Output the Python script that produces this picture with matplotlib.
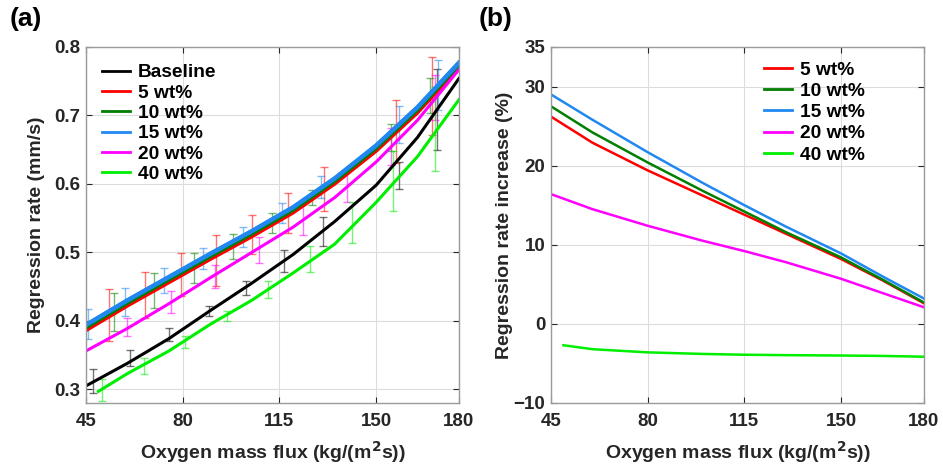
import matplotlib
matplotlib.use("Agg")
import matplotlib.pyplot as plt
import numpy as np

plt.rcParams.update(
    {
        "font.family": ["Liberation Sans", "DejaVu Sans"],
        "font.weight": "bold",
        "axes.labelweight": "bold",
        "xtick.direction": "in",
        "ytick.direction": "in",
        "xtick.top": True,
        "ytick.right": True,
    }
)

# ---- panel (a): fitted regression rate curves (mm/s) ----
labels_a = ["Baseline", "5 wt%", "10 wt%", "15 wt%", "20 wt%", "40 wt%"]
colors = ["#000000", "#ff0000", "#007f00", "#2088f0", "#ff00ff", "#00ee00"]

fit_x = [45, 60, 75, 90, 105, 120, 135, 150, 165, 180]
fit_x40 = [49.5, 60, 75, 90, 105, 120, 135, 150, 165, 180]
fit_base = [0.305, 0.338, 0.374, 0.415, 0.455, 0.497, 0.545, 0.598, 0.668, 0.754]
fit_5 = [0.386, 0.422, 0.456, 0.490, 0.523, 0.558, 0.600, 0.648, 0.704, 0.770]
fit_10 = [0.390, 0.426, 0.460, 0.494, 0.527, 0.562, 0.604, 0.652, 0.708, 0.773]
fit_15 = [0.394, 0.430, 0.464, 0.498, 0.531, 0.566, 0.608, 0.656, 0.712, 0.777]
fit_20 = [0.356, 0.389, 0.425, 0.463, 0.500, 0.537, 0.580, 0.632, 0.693, 0.767]
fit_40 = [0.297, 0.323, 0.356, 0.395, 0.430, 0.470, 0.512, 0.573, 0.640, 0.723]

# measured points: flux, bar bottom, bar top
meas_x_base = [47.4, 61.0, 74.9, 89.6, 102.9, 116.7, 130.9, 158.4, 172.1]
meas_lo_base = [0.295, 0.334, 0.370, 0.407, 0.438, 0.472, 0.509, 0.593, 0.649]
meas_hi_base = [0.329, 0.358, 0.390, 0.421, 0.458, 0.503, 0.551, 0.632, 0.768]

meas_x_5 = [53.4, 66.5, 79.4, 92.0, 105.2, 118.2, 131.2, 157.1, 170.1]
meas_lo_5 = [0.370, 0.404, 0.436, 0.451, 0.497, 0.528, 0.560, 0.630, 0.671]
meas_hi_5 = [0.446, 0.472, 0.499, 0.526, 0.555, 0.587, 0.624, 0.722, 0.785]

meas_x_10 = [55.3, 69.7, 84.0, 98.1, 112.4, 126.7, 155.4, 169.5]
meas_lo_10 = [0.385, 0.419, 0.455, 0.491, 0.529, 0.569, 0.648, 0.703]
meas_hi_10 = [0.441, 0.470, 0.499, 0.527, 0.558, 0.591, 0.687, 0.754]

meas_x_15 = [45.6, 59.2, 73.3, 87.4, 101.7, 115.8, 130.0, 158.4, 172.5]
meas_lo_15 = [0.373, 0.407, 0.441, 0.475, 0.508, 0.543, 0.579, 0.660, 0.708]
meas_hi_15 = [0.417, 0.448, 0.477, 0.506, 0.537, 0.572, 0.611, 0.714, 0.781]

meas_x_20 = [59.8, 75.8, 91.8, 107.7, 123.7, 139.4, 155.3, 171.3]
meas_lo_20 = [0.378, 0.411, 0.448, 0.485, 0.526, 0.574, 0.627, 0.693]
meas_hi_20 = [0.404, 0.443, 0.482, 0.523, 0.570, 0.621, 0.682, 0.759]

meas_x_40 = [50.8, 65.9, 80.8, 95.9, 111.0, 126.1, 141.2, 156.0, 171.3]
meas_lo_40 = [0.283, 0.322, 0.361, 0.400, 0.434, 0.472, 0.513, 0.561, 0.619]
meas_hi_40 = [0.315, 0.346, 0.378, 0.414, 0.458, 0.509, 0.573, 0.648, 0.742]

# ---- panel (b): regression rate increase (%) ----
labels_b = ["5 wt%", "10 wt%", "15 wt%", "20 wt%", "40 wt%"]
inc_x = [45, 60, 80, 100, 115, 130, 150, 165, 180]
inc_x40 = [49.5, 60, 80, 100, 115, 130, 150, 165, 180]
inc_5 = [26.2, 22.9, 19.4, 16.2, 13.8, 11.4, 8.2, 5.5, 2.6]
inc_10 = [27.5, 24.2, 20.4, 16.8, 14.2, 11.6, 8.4, 5.6, 2.7]
inc_15 = [29.0, 25.8, 21.7, 17.8, 15.0, 12.3, 8.9, 6.0, 3.2]
inc_20 = [16.4, 14.5, 12.4, 10.5, 9.2, 7.8, 5.7, 3.9, 2.1]
inc_40 = [-2.7, -3.2, -3.6, -3.8, -3.9, -3.95, -4.0, -4.05, -4.15]

fig = plt.figure(figsize=(9.43, 4.66), dpi=100)
ax1 = fig.add_axes([0.0912, 0.1352, 0.3955, 0.764])
ax2 = fig.add_axes([0.5843, 0.1352, 0.3955, 0.764])

XLAB = "Oxygen mass flux (kg/(m$^\\mathbf{2}$s))"


def style_axes(ax):
    ax.grid(True, color="#dcdcdc", linewidth=0.8)
    ax.set_axisbelow(True)
    for sp in ax.spines.values():
        sp.set_color("#9a9a9a")
        sp.set_linewidth(1.0)
    ax.tick_params(labelsize=13.5, colors="#262626", length=4, width=0.8,
                   pad=4)
    ax.tick_params(axis="x", pad=7)
    for t in ax.get_xticklabels() + ax.get_yticklabels():
        t.set_fontweight("bold")


def style_legend(leg):
    for t in leg.get_texts():
        t.set_fontweight("bold")
    for lh in leg.get_lines():
        lh.set_linewidth(2.0)


fits = [fit_base, fit_5, fit_10, fit_15, fit_20, fit_40]
fit_xs = [fit_x, fit_x, fit_x, fit_x, fit_x, fit_x40]
meas = [
    (meas_x_base, meas_lo_base, meas_hi_base),
    (meas_x_5, meas_lo_5, meas_hi_5),
    (meas_x_10, meas_lo_10, meas_hi_10),
    (meas_x_15, meas_lo_15, meas_hi_15),
    (meas_x_20, meas_lo_20, meas_hi_20),
    (meas_x_40, meas_lo_40, meas_hi_40),
]
widths = [2.2, 2.6, 2.6, 3.0, 2.2, 2.2]

for (mx, lo, hi), col in zip(meas, colors):
    lo = np.array(lo)
    hi = np.array(hi)
    mid = (lo + hi) / 2
    ax1.errorbar(mx, mid, yerr=(hi - lo) / 2, fmt="none", ecolor=col,
                 elinewidth=1.0, capsize=3, capthick=1.0, alpha=0.55)

handles = []
for fx, fy, col, lab, lw in zip(fit_xs, fits, colors, labels_a, widths):
    h, = ax1.plot(fx, fy, color=col, lw=lw, label=lab)
    handles.append(h)
# 15 wt% sits on top of 5/10 wt% as in the original
ax1.plot(fit_x, fit_15, color=colors[3], lw=widths[3])

ax1.set_xlim(45, 180)
ax1.set_ylim(0.28, 0.8)
ax1.set_xticks([45, 80, 115, 150, 180])
ax1.set_yticks([0.3, 0.4, 0.5, 0.6, 0.7, 0.8])
ax1.set_yticklabels(["0.3", "0.4", "0.5", "0.6", "0.7", "0.8"])
style_axes(ax1)
ax1.set_xlabel(XLAB, fontsize=14, color="#262626")
ax1.set_ylabel("Regression rate (mm/s)", fontsize=14, color="#262626")
ax1.xaxis.set_label_coords(0.5, -0.101)
ax1.yaxis.set_label_coords(-0.11, 0.5)
leg1 = ax1.legend(handles=handles, loc="upper left",
                  bbox_to_anchor=(0.008, 0.99), frameon=False, fontsize=13.8,
                  handlelength=1.45, handletextpad=0.4, labelspacing=0.15,
                  borderpad=0.2)
style_legend(leg1)

incs = [inc_5, inc_10, inc_15, inc_20, inc_40]
inc_xs = [inc_x, inc_x, inc_x, inc_x, inc_x40]
for ix, iy, col, lab in zip(inc_xs, incs, colors[1:], labels_b):
    ax2.plot(ix, iy, color=col, lw=1.8, label=lab)

ax2.set_xlim(45, 180)
ax2.set_ylim(-10, 35)
ax2.set_xticks([45, 80, 115, 150, 180])
ax2.set_yticks([-10, 0, 10, 20, 30, 35])
style_axes(ax2)
ax2.set_xlabel(XLAB, fontsize=14, color="#262626")
ax2.set_ylabel("Regression rate increase (%)", fontsize=14, color="#262626")
ax2.xaxis.set_label_coords(0.5, -0.101)
ax2.yaxis.set_label_coords(-0.102, 0.5)
leg2 = ax2.legend(loc="upper left", bbox_to_anchor=(0.536, 0.998),
                  frameon=False, fontsize=13.8, handlelength=1.45,
                  handletextpad=0.4, labelspacing=0.2, borderpad=0.2)
style_legend(leg2)

fig.text(0.010, 0.985, "(a)", fontsize=19, fontweight="bold", va="top")
fig.text(0.508, 0.985, "(b)", fontsize=19, fontweight="bold", va="top")

fig.savefig("out.png", dpi=100)
